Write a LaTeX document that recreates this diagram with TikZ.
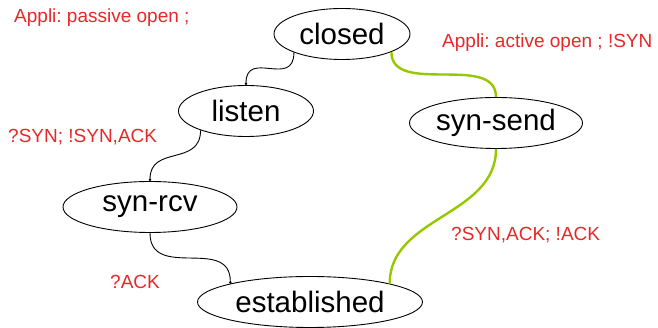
\documentclass[tikz,border=0pt]{standalone}
\usepackage{fontspec}
\setmainfont{Liberation Sans}
\frenchspacing
\usepackage{xcolor}
\definecolor{lblred}{RGB}{230, 40, 40}
\definecolor{lime}{RGB}{150, 200, 0}
\usepackage{tikz}
\usetikzlibrary{shapes.geometric, arrows.meta, positioning}

\begin{document}
\begin{tikzpicture}[x=1pt, y=1pt,
			state/.style={ellipse, draw=black, line width=0.9pt, inner sep=0pt,
				minimum height=51pt, font=\fontsize{29.5}{35}\selectfont},
			trans/.style={-{Circle[length=2.4pt]}, line width=0.9pt, out=-90, in=90, looseness=1.3},
			go/.style={line width=2.4pt, draw=lime, out=-90, in=90},
			lbl/.style={anchor=base west, inner sep=0pt, text=lblred,
				font=\fontsize{19}{23}\selectfont}
			]
			\useasboundingbox (0,0) rectangle (658,328);
			\node[state, minimum width=136pt] (closed)      at (342, 294) {closed};
			\node[state, minimum width=135pt] (listen)      at (246, 217) {listen};
			\node[state, minimum width=173pt] (synsend)     at (496, 205) {syn-send};
			\node[state, minimum width=174pt] (synrcv)      at (150, 121) {syn-rcv};
			\node[state, minimum width=225pt] (established) at (310,  26) {established};
			
			\node[lbl] (passive) at (14, 305) {Appli: passive open ;};
			\node[lbl] (active)  at (442, 280) {Appli: active open ; !SYN};
			\node[lbl] (gotsyn)  at (8, 185) {?SYN; !SYN,ACK};
			\node[lbl] (gotack)  at (110, 39) {?ACK};
			\node[lbl] (gotsynack) at (451, 87) {?SYN,ACK; !ACK};
			
			\draw[trans, looseness=1.6] (closed.201) to (listen.90);
			\draw[trans] (listen.203) to (synrcv.90);
			\draw[trans] (synrcv.270) to (established.167);
			\draw[go] (closed.340) to (synsend.90);
			\draw[go] (synsend.270) to (established.13);
		\end{tikzpicture}
\end{document}
